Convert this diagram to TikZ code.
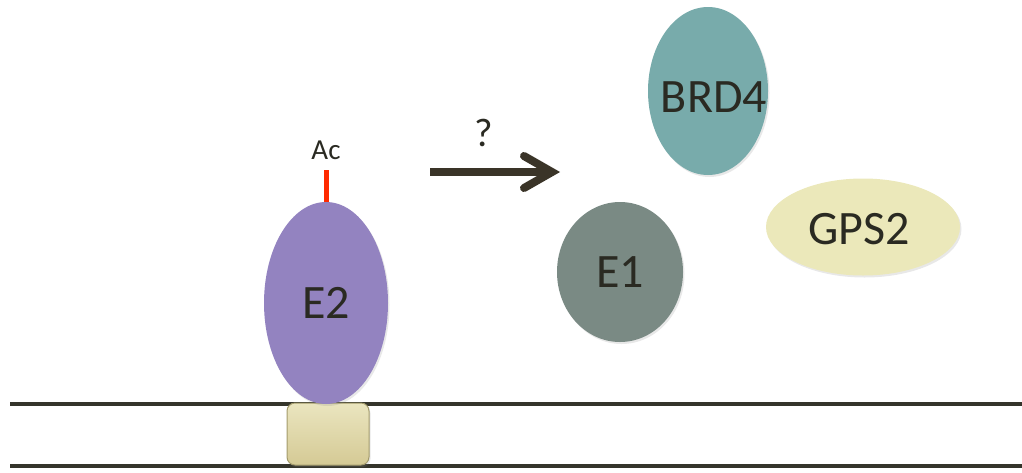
\documentclass[tikz,border=0pt]{standalone}
\usepackage{fontspec}
\setmainfont{Carlito}
\usetikzlibrary{shapes.geometric,shadows}
\definecolor{txt}{HTML}{2A2A22}
\definecolor{dna}{HTML}{35352B}
\definecolor{ctwo}{HTML}{9383C0}
\definecolor{cone}{HTML}{7A8A84}
\definecolor{cbrd}{HTML}{78ABAB}
\definecolor{cgps}{HTML}{EBE8BA}
\definecolor{boxtop}{HTML}{EAE5BF}
\definecolor{boxbot}{HTML}{D5CA95}
\definecolor{boxline}{HTML}{A39B6C}
\definecolor{acred}{HTML}{FF2A00}
\definecolor{arrowc}{HTML}{3A3428}
\tikzset{
  protein/.style={ellipse, inner sep=0pt, text=txt, font=\fontsize{48}{50}\selectfont,
    drop shadow={opacity=0.18, shadow xshift=1.5pt, shadow yshift=-2pt}},
  dnaline/.style={draw=dna, line width=4pt},
  site/.style={rectangle, rounded corners=8pt, draw=boxline, line width=1pt,
    top color=boxtop, bottom color=boxbot, inner sep=0pt,
    drop shadow={opacity=0.18, shadow xshift=1.5pt, shadow yshift=-2pt}},
  label/.style={text=txt, inner sep=0pt},
}
\begin{document}
\begin{tikzpicture}[x=1pt, y=-1pt]
\useasboundingbox (0,0) rectangle (1022,472);
% DNA strands
\coordinate (t1) at (10,404);
\coordinate (t2) at (1022,404);
\coordinate (b1) at (10,466);
\coordinate (b2) at (1022,466);
\draw[dnaline] (t1) -- (t2);
\draw[dnaline] (b1) -- (b2);
% binding site
\node[site, minimum width=82pt, minimum height=62pt] (box) at (328,434) {};
% E2
\node[protein, fill=ctwo, minimum width=124pt, minimum height=202pt] (e2) at (326,303) {E2};
\coordinate (actop) at (326,170);
\draw[acred, line width=5pt] (e2.north) -- (actop);
\node[label, font=\fontsize{29}{31}\selectfont] (ac) at (326,150) {Ac};
% arrow
\coordinate (a1) at (430,172);
\coordinate (a2) at (552,172);
\draw[arrowc, line width=8pt] (a1) -- (a2);
\draw[arrowc, line width=8pt, line cap=round, line join=miter]
  ([shift={(-28,-16)}]a2) -- (a2) -- ([shift={(-28,16)}]a2);
\node[label, font=\fontsize{40}{42}\selectfont] (q) at (484,133) {?};
% other proteins
\node[protein, fill=cone, minimum width=126pt, minimum height=140pt] (e1) at (620,272) {E1};
\node[protein, fill=cbrd, minimum width=120pt, minimum height=168pt] (brd) at (708,91) {};
\node[label, font=\fontsize{48}{50}\selectfont] (brdtxt) at (714,97) {BRD4};
\node[protein, fill=cgps, minimum width=194pt, minimum height=97pt] (gps) at (863,227) {};
\node[label, font=\fontsize{48}{50}\selectfont] (gpstxt) at (859,229) {GPS2};
\end{tikzpicture}
\end{document}
